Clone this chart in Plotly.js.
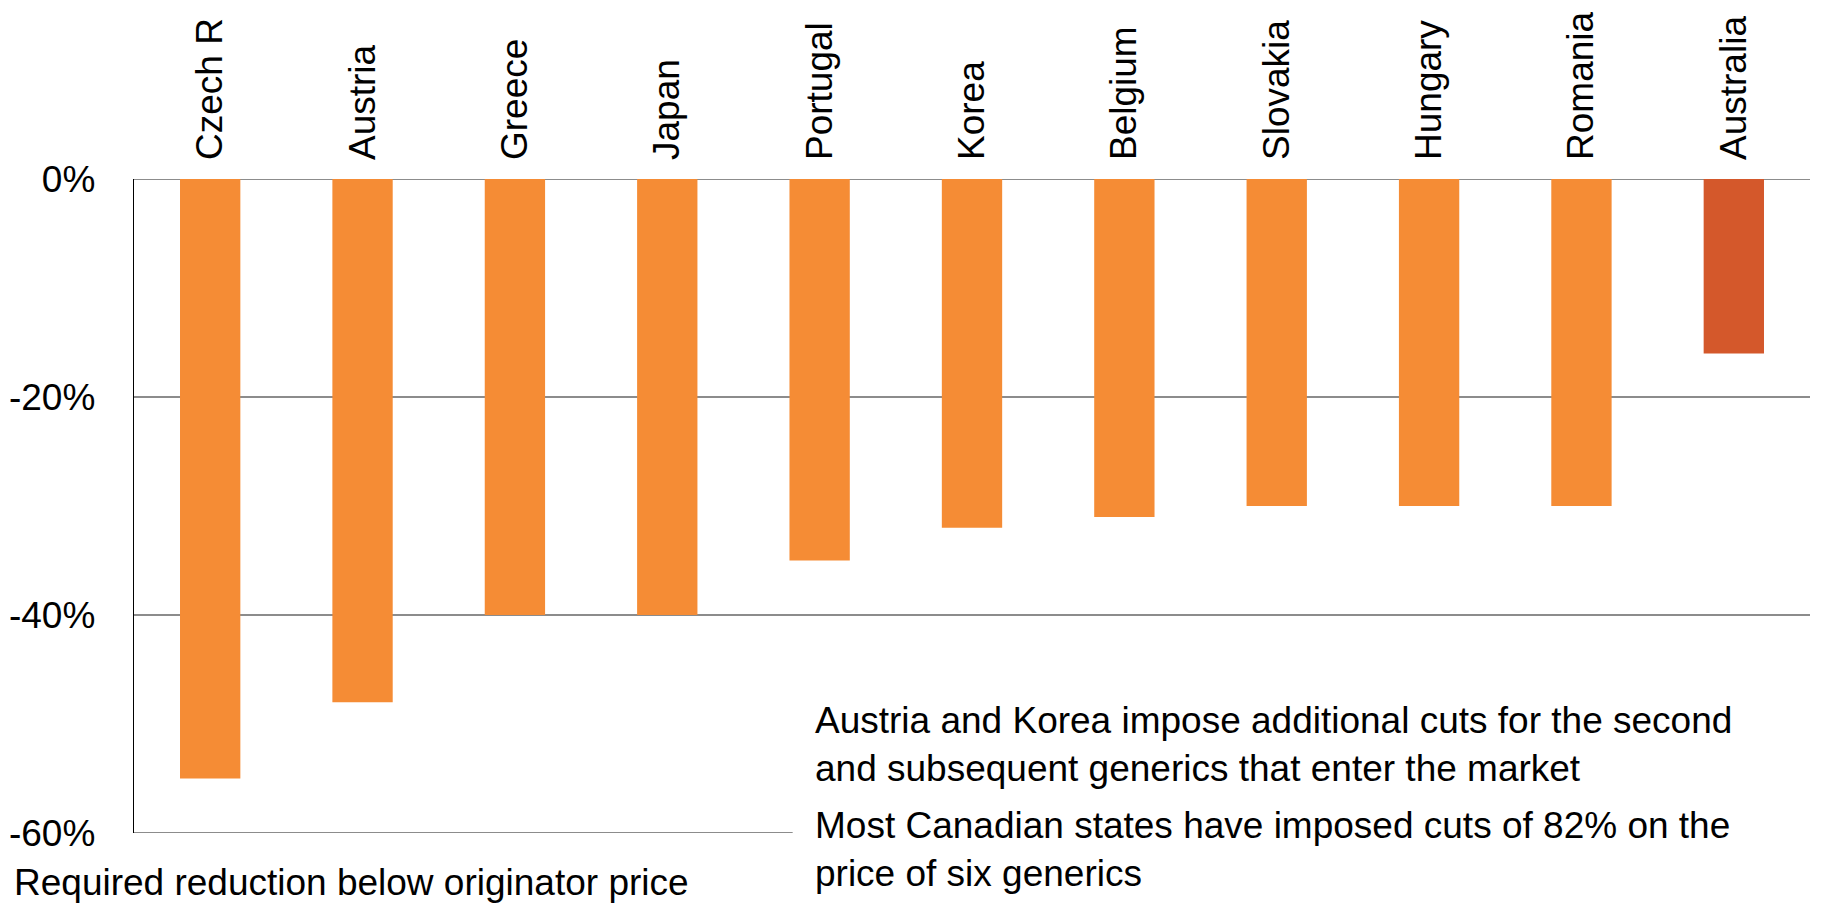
<!DOCTYPE html>
<html>
<head>
<meta charset="utf-8">
<script src="https://cdn.plot.ly/plotly-3.0.1.min.js"></script>
<style>
  html, body { margin: 0; padding: 0; background: #ffffff; }
  #chart { width: 1821px; height: 909px; }
</style>
</head>
<body>
<div id="chart"></div>
<script>
// ---- Data ----
const countries = ['Czech R', 'Austria', 'Greece', 'Japan', 'Portugal', 'Korea', 'Belgium', 'Slovakia', 'Hungary', 'Romania', 'Australia'];
const reductions = [-55, -48, -40, -40, -35, -32, -31, -30, -30, -30, -16];
const highlight = 'Australia';
const tickValues = [0, -20, -40, -60];
const tickLabels = ['0%', '-20%', '-40%', '-60%'];
const gridValues = [0, -20, -40];
const note1 = ['Austria and Korea impose additional cuts for the second', 'and subsequent generics that enter the market'];
const note2 = ['Most Canadian states have imposed cuts of 82% on the', 'price of six generics'];
const footNote = 'Required reduction below originator price';

// ---- Styles ----
const ORANGE = '#F58C35';
const DARK_ORANGE = '#D4582B';
const GRID = '#8C8C8C';
const FONT = '"Liberation Sans", Arial, Helvetica, sans-serif';
const FS = 37;

const barColors = countries.map(c => c === highlight ? DARK_ORANGE : ORANGE);

const trace = {
  type: 'bar',
  x: countries,
  y: reductions,
  marker: { color: barColors, line: { width: 0 } },
  hoverinfo: 'x+y',
  showlegend: false
};

const shapes = gridValues.map(v => ({
  type: 'line', layer: 'below', xref: 'paper', yref: 'y',
  x0: 0, x1: 1, y0: v, y1: v,
  line: { color: GRID, width: 2 }
}));
shapes.push({
  type: 'line', layer: 'below', xref: 'paper', yref: 'y',
  x0: 0, x1: 0.393, y0: -60, y1: -60,
  line: { color: GRID, width: 2 }
});

function noteAnn(text, x, y, xanchor) {
  return {
    xref: 'paper', yref: 'paper', x: x, y: y,
    xanchor: xanchor || 'left', yanchor: 'middle', align: 'left',
    text: text, showarrow: false,
    font: { family: FONT, size: FS, color: '#000000' }
  };
}

const annotations = [
  noteAnn(note1.join('<br>'), 0.405, 0.136),
  noteAnn(note2.join('<br>'), 0.405, -0.025),
  noteAnn(footNote, -0.073, -0.0757)
];

const layout = {
  width: 1821,
  height: 909,
  margin: { l: 134, r: 11, t: 179, b: 76, pad: 0 },
  paper_bgcolor: '#ffffff',
  plot_bgcolor: '#ffffff',
  font: { family: FONT, size: FS, color: '#000000' },
  bargap: 0.604,
  xaxis: {
    type: 'category',
    side: 'top',
    tickangle: -90,
    ticks: '',
    showline: false,
    showgrid: false,
    zeroline: false,
    tickfont: { family: FONT, size: FS, color: '#000000' },
    ticklabelstandoff: 18,
    fixedrange: true
  },
  yaxis: {
    range: [-60, 0],
    tickvals: tickValues,
    ticktext: tickLabels,
    ticks: '',
    showgrid: false,
    zeroline: false,
    showline: true,
    linecolor: '#000000',
    linewidth: 1.3,
    tickfont: { family: FONT, size: FS, color: '#000000' },
    ticklabelstandoff: 30,
    fixedrange: true
  },
  shapes: shapes,
  annotations: annotations
};

Plotly.newPlot('chart', [trace], layout, { displayModeBar: false, staticPlot: true });
</script>
</body>
</html>
